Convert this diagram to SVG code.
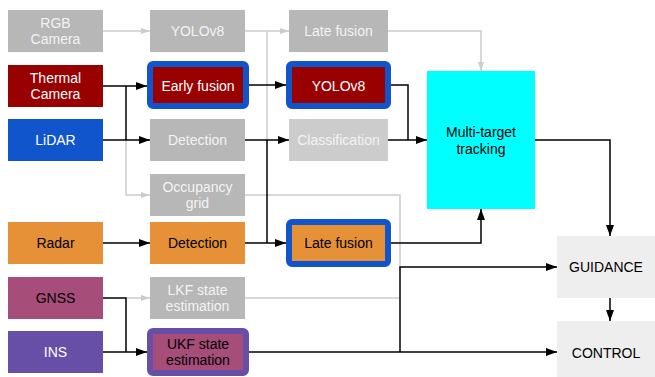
<svg xmlns="http://www.w3.org/2000/svg" width="655" height="377" viewBox="0 0 655 377">
<style>
text{font-family:"Liberation Sans",Arial,sans-serif;font-size:14px;text-anchor:middle}
.w{fill:#ffffff}.k{fill:#000000}.lt{fill:#f3f3f3}
.c{fill:none;stroke:#000;stroke-width:1.5}
.g{fill:none;stroke:#cccccc;stroke-width:1.5}
.hl{stroke:#1155cc;stroke-width:6}
</style>
<defs>
<marker id="ab" markerUnits="userSpaceOnUse" markerWidth="12" markerHeight="10" refX="11" refY="5" orient="auto"><path d="M0,1 L11,5 L0,9 Z" fill="#000"/></marker>
<marker id="ag" markerUnits="userSpaceOnUse" markerWidth="10" markerHeight="8" refX="9" refY="4" orient="auto"><path d="M0,1 L9,4 L0,7 Z" fill="#cccccc"/></marker>
</defs>
<rect width="655" height="377" fill="#fff"/>
<g id="connectors">
<path class="g" d="M103,31 H150" marker-end="url(#ag)"/>
<path class="g" d="M245,31 H289" marker-end="url(#ag)"/>
<path class="g" d="M267,140 V31"/>
<path class="g" d="M388,31 H481 V71" marker-end="url(#ag)"/>
<path class="g" d="M126,140 V195 H150" marker-end="url(#ag)"/>
<path class="g" d="M245,195 H400 V267"/>
<path class="g" d="M126,298 H150" marker-end="url(#ag)"/>
<path class="g" d="M245,298 H400"/>
<path class="c" d="M103,86 H147" marker-end="url(#ab)"/>
<path class="c" d="M126,86 V140"/>
<path class="c" d="M103,140 H150" marker-end="url(#ab)"/>
<path class="c" d="M249,85 H286" marker-end="url(#ab)"/>
<path class="c" d="M391,85 H408 V140"/>
<path class="c" d="M245,140 H289" marker-end="url(#ab)"/>
<path class="c" d="M388,140 H427" marker-end="url(#ab)"/>
<path class="c" d="M267,140 V243"/>
<path class="c" d="M103,243 H150" marker-end="url(#ab)"/>
<path class="c" d="M245,243 H286" marker-end="url(#ab)"/>
<path class="c" d="M391,243 H481 V209" marker-end="url(#ab)"/>
<path class="c" d="M535,140 H610 V236" marker-end="url(#ab)"/>
<path class="c" d="M610,298 V321" marker-end="url(#ab)"/>
<path class="c" d="M103,298 H126 V352"/>
<path class="c" d="M103,352 H147" marker-end="url(#ab)"/>
<path class="c" d="M249,352 H557" marker-end="url(#ab)"/>
<path class="c" d="M400,352 V267 H557" marker-end="url(#ab)"/>
</g>
<g id="rgb"><rect x="8" y="10" width="95" height="42" fill="#b7b7b7"/><text class="lt" x="55.5" y="28">RGB</text><text class="lt" x="55.5" y="44">Camera</text></g>
<g id="thermal"><rect x="8" y="65" width="95" height="42" fill="#990000"/><text class="w" x="55.5" y="83">Thermal</text><text class="w" x="55.5" y="99">Camera</text></g>
<g id="lidar"><rect x="8" y="119" width="95" height="42" fill="#1155cc"/><text class="w" x="55.5" y="145">LiDAR</text></g>
<g id="radar"><rect x="8" y="222" width="95" height="42" fill="#e69138"/><text class="k" x="55.5" y="248">Radar</text></g>
<g id="gnss"><rect x="8" y="277" width="95" height="42" fill="#a64d79"/><text class="k" x="55.5" y="303">GNSS</text></g>
<g id="ins"><rect x="8" y="331" width="95" height="42" fill="#674ea7"/><text class="w" x="55.5" y="357">INS</text></g>
<g id="yolo1"><rect x="150" y="10" width="95" height="42" fill="#b7b7b7"/><text class="lt" x="197.5" y="36">YOLOv8</text></g>
<g id="early"><rect x="150" y="64" width="96" height="42" rx="3" fill="#990000" class="hl"/><text class="w" x="198" y="91">Early fusion</text></g>
<g id="det1"><rect x="150" y="119" width="95" height="42" fill="#b7b7b7"/><text class="lt" x="197.5" y="145">Detection</text></g>
<g id="occ"><rect x="150" y="174" width="95" height="42" fill="#b7b7b7"/><text class="lt" x="197.5" y="192">Occupancy</text><text class="lt" x="197.5" y="208">grid</text></g>
<g id="det2"><rect x="150" y="222" width="95" height="42" fill="#e69138"/><text class="k" x="197.5" y="248">Detection</text></g>
<g id="lkf"><rect x="150" y="277" width="95" height="42" fill="#b7b7b7"/><text class="lt" x="197.5" y="295">LKF state</text><text class="lt" x="197.5" y="311">estimation</text></g>
<g id="ukf"><rect x="150" y="331" width="96" height="42" rx="3" fill="#a64d79" stroke="#674ea7" stroke-width="6"/><text class="k" x="198" y="349">UKF state</text><text class="k" x="198" y="365">estimation</text></g>
<g id="late1"><rect x="289" y="10" width="99" height="42" fill="#b7b7b7"/><text class="lt" x="338.5" y="36">Late fusion</text></g>
<g id="yolo2"><rect x="289" y="64" width="99" height="42" rx="3" fill="#990000" class="hl"/><text class="w" x="338.5" y="91">YOLOv8</text></g>
<g id="cls"><rect x="289" y="119" width="99" height="42" fill="#cccccc"/><text class="lt" x="338.5" y="145">Classification</text></g>
<g id="late2"><rect x="289" y="222" width="99" height="42" rx="3" fill="#e69138" class="hl"/><text class="k" x="338.5" y="248">Late fusion</text></g>
<g id="mtt"><rect x="427" y="71" width="108" height="138" fill="#00ffff"/><text class="k" x="481" y="137">Multi-target</text><text class="k" x="481" y="154">tracking</text></g>
<g id="guidance"><rect x="557" y="236" width="98" height="62" fill="#eeeeee"/><text class="k" x="606" y="272">GUIDANCE</text></g>
<g id="control"><rect x="557" y="321" width="98" height="56" fill="#eeeeee"/><text class="k" x="606" y="358">CONTROL</text></g>
</svg>
